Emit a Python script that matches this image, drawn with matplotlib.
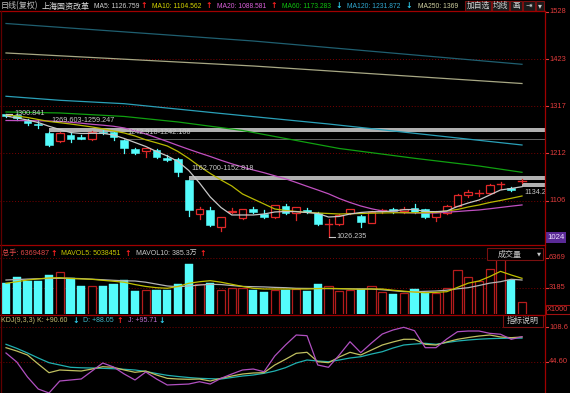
import matplotlib
matplotlib.use('Agg')
import matplotlib.pyplot as plt
from matplotlib.patches import Rectangle
from matplotlib.lines import Line2D
from matplotlib.transforms import blended_transform_factory as blend

plt.rcParams['font.family'] = ['Liberation Sans', 'DejaVu Sans', 'Noto Sans CJK SC']
CJK = ['Noto Sans CJK SC', 'DejaVu Sans']

# ---------------- data ----------------
opens = [1300.2, 1298.0, 1286.8, 1277.9, 1257.5, 1240.6, 1253.3, 1249.5, 1244.4, 1260.7,
         1259.4, 1241.5, 1221.4, 1217.6, 1219.9, 1201.3, 1199.1, 1152.0, 1076.3, 1085.9,
         1047.2, 1080.7, 1067.4, 1088.1, 1076.9, 1069.6, 1095.5, 1078.5, 1085.9, 1079.8,
         1051.3, 1054.6, 1079.8, 1072.5, 1057.5, 1082.9, 1087.4, 1084.3, 1089.7, 1087.4,
         1069.6, 1079.8, 1095.5, 1119.4, 1121.6, 1123.2, 1140.6, 1134.3, 1148.0]
closes = [1295.8, 1290.6, 1279.5, 1275.0, 1231.0, 1258.0, 1244.4, 1245.1, 1260.7, 1257.1,
          1248.2, 1223.6, 1213.8, 1223.6, 1204.9, 1197.5, 1171.4, 1085.9, 1087.4, 1052.4,
          1069.6, 1083.6, 1087.4, 1080.7, 1069.6, 1097.0, 1078.5, 1091.9, 1080.7, 1054.6,
          1053.5, 1074.7, 1087.4, 1059.7, 1082.1, 1085.1, 1084.3, 1087.4, 1082.1, 1070.9,
          1082.1, 1094.8, 1119.4, 1125.4, 1123.9, 1141.7, 1142.8, 1130.5, 1150.0]
highs = [1300.841, 1300.2, 1289.1, 1286.8, 1259.247, 1259.0, 1258.5, 1253.3, 1262.0, 1264.5,
         1261.0, 1242.106, 1224.0, 1224.5, 1222.0, 1208.7, 1201.3, 1152.818, 1091.9, 1091.9,
         1071.0, 1091.0, 1089.0, 1093.2, 1085.9, 1098.0, 1099.3, 1093.0, 1090.3, 1082.0,
         1065.1, 1076.0, 1089.0, 1074.0, 1083.5, 1087.4, 1089.7, 1092.6, 1099.3, 1089.0,
         1083.0, 1096.0, 1121.0, 1130.5, 1130.5, 1143.0, 1149.1, 1137.2, 1154.0]
lows = [1293.5, 1286.8, 1275.7, 1269.603, 1228.8, 1238.4, 1238.4, 1244.4, 1243.0, 1255.0,
        1242.918, 1213.8, 1210.9, 1204.9, 1203.0, 1196.0, 1162.700, 1072.5, 1065.8, 1051.0,
        1039.6, 1078.5, 1066.0, 1079.5, 1068.5, 1068.0, 1077.0, 1063.5, 1079.5, 1053.0,
        1026.235, 1053.0, 1078.0, 1047.2, 1056.0, 1078.5, 1079.2, 1079.2, 1080.0, 1069.0,
        1061.3, 1078.0, 1094.0, 1114.9, 1117.1, 1122.0, 1132.1, 1128.3, 1145.0]

ma5 = [1295.8, 1291.3, 1286.8, 1281.2, 1272.8, 1265.6, 1258.9, 1256.7, 1257.1, 1257.1,
       1253.3, 1245.5, 1236.6, 1227.7, 1216.5, 1206.5, 1194.2, 1174.1, 1146.2, 1114.9,
       1091.4, 1074.7, 1074.7, 1074.7, 1076.9, 1081.4, 1082.5, 1082.1, 1080.3, 1078.1,
       1070.2, 1071.4, 1076.9, 1080.3, 1082.1, 1082.1, 1083.6, 1086.5, 1087.0, 1082.5,
       1082.1, 1083.6, 1093.7, 1101.5, 1108.2, 1119.4, 1130.5, 1133.9, 1137.9]
ma10 = [1298.0, 1295.8, 1292.4, 1287.9, 1283.5, 1280.8, 1277.9, 1274.6, 1271.2, 1267.2,
        1262.3, 1257.8, 1251.1, 1242.6, 1235.9, 1228.8, 1216.5, 1200.9, 1183.4, 1167.4,
        1152.9, 1139.5, 1121.6, 1110.4, 1099.3, 1088.1, 1084.8, 1082.5, 1080.3, 1079.2,
        1078.0, 1076.9, 1077.6, 1078.0, 1078.7, 1079.2, 1079.6, 1079.8, 1079.8, 1079.8,
        1080.7, 1083.6, 1087.0, 1092.6, 1097.0, 1102.6, 1107.1, 1112.0, 1117.1]
ma20 = [1285.7, 1285.5, 1285.3, 1285.0, 1284.6, 1283.5, 1281.7, 1279.7, 1277.2, 1275.2,
        1272.8, 1269.0, 1263.0, 1255.6, 1247.3, 1238.8, 1229.9, 1221.4, 1213.2, 1205.3,
        1196.8, 1189.0, 1181.9, 1175.2, 1169.1, 1162.2, 1155.5, 1147.3, 1138.8, 1130.5,
        1122.0, 1111.5, 1102.6, 1094.8, 1088.6, 1083.6, 1081.4, 1079.8, 1079.2, 1079.2,
        1079.2, 1081.0, 1082.5, 1084.3, 1085.9, 1088.6, 1091.5, 1094.4, 1097.1]
ma60_idx = [0, 5, 11, 16, 22, 26, 31, 38, 44, 48]
ma60_val = [1304.7, 1302.5, 1294.7, 1282.4, 1263.4, 1245.5, 1223.2, 1201.3, 1184.1, 1170.0]
ma120_idx = [0, 5, 11, 20, 30, 39, 48]
ma120_val = [1339.8, 1330.8, 1323.2, 1301.4, 1277.9, 1254.5, 1231.0]
ma250_idx = [0, 23, 48]
ma250_val = [1436.5, 1407.4, 1368.3]
malong_idx = [0, 23, 48]
malong_val = [1502.3, 1463.2, 1411.2]

volumes = [3683, 4319, 3960, 3927, 4563, 4849, 4277, 3429, 3397, 3363,
           3609, 4033, 2899, 2973, 2973, 2973, 3574, 5731, 3609, 3683,
           2973, 3217, 3150, 2973, 2793, 2973, 2973, 3043, 2899, 3609,
           3429, 2867, 2973, 3079, 3397, 2761, 2549, 2623, 3079, 2623,
           2623, 3217, 5095, 4319, 3960, 5201, 6369, 4033, 1669]
mavol5 = [3684, 3850, 4034, 4150, 4250, 4278, 4200, 4150, 4108, 4000,
          3900, 3790, 3550, 3350, 3217, 3153, 3350, 3684, 3850, 3960,
          3800, 3578, 3350, 3150, 3079, 3079, 3079, 3079, 3079, 3120,
          3150, 3120, 3079, 3050, 3079, 3079, 2950, 2850, 2750, 2686,
          2720, 2792, 3250, 3700, 3928, 4400, 4950, 4564, 4214]
mavol10 = [4030, 4080, 4130, 4170, 4200, 4214, 4214, 4180, 4120, 4060,
           4000, 3950, 3928, 3800, 3600, 3400, 3323, 3400, 3500, 3578,
           3550, 3450, 3350, 3323, 3300, 3250, 3217, 3153, 3140, 3130,
           3120, 3110, 3100, 3090, 3079, 3000, 2900, 2800, 2792, 2830,
           2867, 2950, 3100, 3217, 3450, 3700, 3853, 4108, 4034]

k_vals = [70.7, 64.5, 57.1, 40.3, 24.2, 29.2, 28.2, 27.3, 31.0, 35.3,
          34.2, 29.2, 24.9, 27.3, 19.9, 13.7, 12.4, 11.9, 12.4, 8.7,
          13.7, 18.0, 21.7, 23.6, 24.2, 38.5, 49.1, 60.2, 62.1, 44.6,
          42.8, 53.4, 62.1, 57.1, 66.4, 75.7, 81.3, 86.3, 86.3, 77.0,
          75.7, 81.3, 86.3, 89.6, 92.4, 94.3, 90.6, 89.3, 90.6]
d_vals = [77.0, 69.5, 60.8, 51.5, 42.8, 38.5, 34.2, 33.3, 32.9, 32.3,
          31.6, 30.5, 29.2, 26.4, 22.7, 19.3, 17.1, 15.2, 13.7, 13.0,
          12.4, 15.2, 18.0, 19.9, 23.0, 27.3, 33.5, 42.2, 47.8, 45.9,
          44.6, 47.8, 51.5, 53.9, 58.9, 63.2, 70.1, 75.7, 77.5, 78.8,
          77.0, 80.3, 83.1, 85.0, 86.5, 87.5, 88.05, 88.3, 88.5]
j_vals = [60.8, 44.1, 16.2, -6.2, -13.6, 8.7, 10.6, 12.5, 27.3, 42.2,
          34.8, 21.7, 10.6, 25.5, 12.5, 1.3, 2.2, 3.1, 7.4, 3.1,
          13.7, 21.7, 29.2, 31.0, 26.0, 55.2, 75.7, 94.3, 93.0, 38.5,
          34.2, 57.1, 81.8, 61.4, 79.4, 96.1, 103.6, 108.6, 102.3, 70.7,
          70.7, 86.8, 100.4, 101.7, 101.7, 97.4, 95.71, 86.3, 91.1]

price_ticks = [1528, 1423, 1317, 1212, 1106]
price_low_label = 1024
vol_ticks = [6369, 3185]
kdj_ticks = [108.6, 44.60]
# price gaps: (bar index where gap starts, upper, lower, label)
gaps = [(4, 1269.603, 1259.247, '1269.603-1259.247'),
        (11, 1242.918, 1242.106, '1242.918-1242.106'),
        (17, 1162.700, 1152.818, '1162.700-1152.818'),
        (48, 1145.0, 1137.2, '1134.218')]

# ---------------- layout ----------------
W, H = 570, 393
fig = plt.figure(figsize=(W / 100, H / 100), dpi=100, facecolor='black')

CYAN = '#54fcfc'
RED = '#e02828'
VRED = '#b41c1c'
AXRED = '#e03c3c'
GRID = '#7a0000'


def rect(x0, y0, x1, y1):
    return [x0 / W, 1 - y1 / H, (x1 - x0) / W, (y1 - y0) / H]


def ftext(x, y, s, color, size=5.0, family=None, ha='left', weight='normal'):
    kw = {}
    if family:
        kw['family'] = family
    fig.text(x / W, 1 - y / H, s, color=color, fontsize=size, ha=ha, va='center',
             weight=weight, **kw)


def fline(x0, y0, x1, y1, color='#a00000', lw=0.9):
    fig.add_artist(Line2D([x0 / W, x1 / W], [1 - y0 / H, 1 - y1 / H], color=color, lw=lw))


def fbox(x0, y0, x1, y1, fc='#1a1a1a', ec='#7a1010', lw=0.8):
    fig.add_artist(Rectangle((x0 / W, 1 - y1 / H), (x1 - x0) / W, (y1 - y0) / H,
                             transform=fig.transFigure, facecolor=fc, edgecolor=ec, lw=lw))


n = len(opens)
idx = list(range(n))
XL = (-6 / 10.75, (545 - 6) / 10.75)


def mk(y0, y1, ylim):
    a = fig.add_axes(rect(0, y0, 545, y1))
    a.set_xlim(*XL)
    a.set_ylim(*ylim)
    a.axis('off')
    return a


ax = mk(11, 244, (1009.9, 1530.2))
axv = mk(246, 314, (426, 7641))
axk = mk(315, 393, (-13.6, 131.5))

# frame lines
fline(0, 10.5, 545, 10.5)
fline(0, 245, 545, 245)
fline(0, 314.5, 545, 314.5)
fline(545, 10.5, 545, 393)
fline(0.5, 10.5, 0.5, 393, color='#600000')

# grids
for t in price_ticks[1:]:
    ax.axhline(t, color=GRID, lw=0.7, ls=(0, (1, 2)), zorder=0)
for t in vol_ticks:
    axv.axhline(t, color=GRID, lw=0.7, ls=(0, (1, 2)), zorder=0)
for t in kdj_ticks:
    axk.axhline(t, color=GRID, lw=0.7, ls=(0, (1, 2)), zorder=0)


def right_labels(a, ticks, fmt):
    tr = blend(a.transAxes, a.transData)
    for t in ticks:
        a.plot([1.0, 1.0 + 3 / 545], [t, t], color=AXRED, lw=0.8, transform=tr, clip_on=False)
        a.text(1.0 + 4 / 545, t, fmt(t), transform=tr, color=AXRED, fontsize=5.4,
               va='center', ha='left', clip_on=False)


right_labels(ax, price_ticks, lambda t: f'{t}')
right_labels(axv, vol_ticks, lambda t: f'{t}')
right_labels(axk, kdj_ticks, lambda t: f'{t:.1f}' if t > 100 else f'{t:.2f}')

# lowest price label box
trm = blend(ax.transAxes, ax.transData)
ax.text(1.0 + 2 / 545, price_low_label, f'{price_low_label}', transform=trm, color='#f0e0ff',
        fontsize=5.6, va='center', ha='left', clip_on=False,
        bbox=dict(boxstyle='square,pad=0.25', facecolor='#5a2a96', edgecolor='none'))

# gap bands
for gi, hi, lo, lab in gaps:
    thick = hi - lo > 2
    ax.add_patch(Rectangle((gi, lo), XL[1] - gi, max(hi - lo, 1.4),
                           facecolor='#b0b0b0' if thick else '#606060',
                           edgecolor='none', zorder=1))
for gi, hi, lo, lab in gaps[:3]:
    ax.annotate(lab, xy=(gi, hi), xytext=(2, 5.4), textcoords='offset points',
                color='#c8c8c8', fontsize=5.2, va='center', ha='left', zorder=6)
gi, hi, lo, lab = gaps[3]
ax.annotate(lab, xy=(gi, lo), xytext=(2, -4.0), textcoords='offset points',
            color='#c8c8c8', fontsize=5.2, va='center', ha='left', zorder=6,
            annotation_clip=False, clip_on=True)

# candles
bw = 0.7
for i, (o, c, h, l) in enumerate(zip(opens, closes, highs, lows)):
    up = c >= o
    top, bot = max(o, c), min(o, c)
    if up:
        ax.plot([i, i], [top, h], color=RED, lw=0.9, zorder=2)
        ax.plot([i, i], [l, bot], color=RED, lw=0.9, zorder=2)
        if top - bot < 2.5:
            ax.plot([i - bw / 2, i + bw / 2], [c, c], color=RED, lw=1.0, zorder=2)
        else:
            ax.add_patch(Rectangle((i - bw / 2, bot), bw, top - bot, facecolor='black',
                                   edgecolor=RED, lw=0.9, zorder=2))
    else:
        ax.plot([i, i], [l, h], color=CYAN, lw=0.9, zorder=2)
        ax.add_patch(Rectangle((i - bw / 2, bot), bw, max(top - bot, 1.5), facecolor=CYAN,
                               edgecolor=CYAN, lw=0.4, zorder=2))

# moving averages
ax.plot(malong_idx, malong_val, color='#1f5f70', lw=0.9, zorder=3)
ax.plot(ma250_idx, ma250_val, color='#a8a884', lw=0.9, zorder=3)
ax.plot(ma120_idx, ma120_val, color='#2aa0b8', lw=0.9, zorder=3)
ax.plot(ma60_idx, ma60_val, color='#10a010', lw=0.9, zorder=3)
ax.plot(idx, ma20, color='#c050c0', lw=0.9, zorder=3)
ax.plot(idx, ma10, color='#b8b800', lw=0.9, zorder=3)
ax.plot(idx, ma5, color='#c8c8c8', lw=0.9, zorder=3)

# extreme labels
i_hi = highs.index(max(highs))
ax.plot([i_hi, i_hi + 0.6], [highs[i_hi], highs[i_hi]], color='#c8c8c8', lw=0.8, zorder=5)
ax.text(i_hi + 0.8, highs[i_hi], f'{highs[i_hi]:.3f}', color='#c8c8c8', fontsize=5.2,
        va='center', ha='left', zorder=6)
i_lo = lows.index(min(lows))
ax.plot([i_lo, i_lo + 0.6], [lows[i_lo], lows[i_lo]], color='#c8c8c8', lw=0.8, zorder=5)
ax.text(i_lo + 0.75, lows[i_lo], f'{lows[i_lo]:.3f}', color='#c8c8c8', fontsize=5.2,
        va='center', ha='left', zorder=6)

# volume
vw = 0.77
for i, v in enumerate(volumes):
    up = closes[i] >= opens[i]
    if up:
        axv.add_patch(Rectangle((i - vw / 2, 0), vw, v, facecolor='black', edgecolor=VRED,
                                lw=0.9, zorder=2))
    else:
        axv.add_patch(Rectangle((i - vw / 2, 0), vw, v, facecolor=CYAN, edgecolor=CYAN,
                                lw=0.3, zorder=2))
axv.plot(idx, mavol10, color='#b4b4b4', lw=0.9, zorder=3)
axv.plot(idx, mavol5, color='#c0c000', lw=0.9, zorder=3)

# KDJ
axk.plot(idx, d_vals, color='#20b0b0', lw=0.9, zorder=3)
axk.plot(idx, k_vals, color='#c0c060', lw=0.9, zorder=3)
axk.plot(idx, j_vals, color='#b050c0', lw=0.9, zorder=3)

# ---------------- header texts ----------------
UP_C = '#ff2020'
DN_C = '#30d0f0'


def arrow(x, y, up):
    ftext(x, y, '↑' if up else '↓', UP_C if up else DN_C, size=5.6,
          family=['DejaVu Sans'], weight='bold', ha='center')


hy = 6
ftext(0.5, hy, '日线(复权)', '#c0c0c0', size=5.8, family=CJK)
ftext(42, hy, '上海国资改革', '#e0e0e0', size=5.8, family=CJK)
ftext(94, hy, 'MA5: 1126.759', '#d0d0d0', size=4.9)
arrow(144, hy, True)
ftext(152, hy, 'MA10: 1104.562', '#d4d400', size=4.9)
arrow(209, hy, True)
ftext(217, hy, 'MA20: 1088.581', '#d860d8', size=4.9)
arrow(274, hy, True)
ftext(282, hy, 'MA60: 1173.283', '#10c010', size=4.9)
arrow(339, hy, False)
ftext(347, hy, 'MA120: 1231.872', '#30a8d0', size=4.9)
arrow(409, hy, False)
ftext(418, hy, 'MA250: 1369', '#d0d0a0', size=4.9)

buttons = [('加自选', 465, 491), ('均线', 492, 509), ('画', 510, 522), ('⇥', 523, 535),
           ('▾', 536, 544)]
for lab, x0, x1 in buttons:
    fbox(x0, 1, x1, 10.5)
    ftext((x0 + x1) / 2, 5.8, lab, '#d0d0d0', size=5.6, family=CJK, ha='center')

vy = 253.3
ftext(2, vy, '总手: 6369487', '#e04848', size=5.2, family=['Liberation Sans', 'Noto Sans CJK SC'])
arrow(54, vy, True)
ftext(61, vy, 'MAVOL5: 5038451', '#c8c800')
arrow(128, vy, True)
ftext(136, vy, 'MAVOL10: 385.3万', '#c8c8c8', family=['Liberation Sans', 'Noto Sans CJK SC'])
arrow(203, vy, True)

fbox(487, 248, 543, 260, fc='black')
ftext(510, 254, '成交量', '#c8c8c8', size=5.8, family=CJK, ha='center')
ftext(539, 254, '▼', '#c8c8c8', size=3.8, family=['DejaVu Sans'], ha='center')

fbox(545.5, 305, 569.5, 313.5, fc='black', ec='#a01010')
ftext(547, 309.3, 'X1000', AXRED, size=5.3)

ky = 320.7
ftext(1, ky, 'KDJ(9,3,3) K: +90.60', '#c8c070')
arrow(76, ky, False)
ftext(83, ky, 'D: +88.05', '#40b8c8')
arrow(120, ky, True)
ftext(128, ky, 'J: +95.71', '#c070d0')
arrow(162, ky, False)

fbox(503, 315, 543, 326.5, fc='black')
ftext(523, 320.8, '指标说明', '#c8c8c8', size=5.8, family=CJK, ha='center')

fig.savefig('out.png', dpi=100, facecolor='black')
